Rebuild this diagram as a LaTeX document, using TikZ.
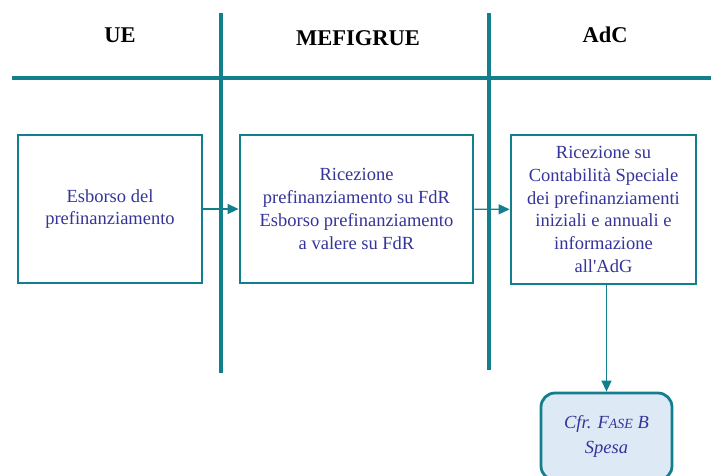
\documentclass[tikz,border=0pt]{standalone}
\usepackage{fontspec}
\setmainfont{Liberation Serif}
\usetikzlibrary{arrows.meta}
\definecolor{lane}{HTML}{137E8D}
\definecolor{testo}{HTML}{35349A}
\definecolor{fondo}{HTML}{DDEAF5}
\begin{document}
\begin{tikzpicture}[x=1pt, y=-1pt,
        box/.style={draw=lane, line width=2.8pt, text=testo, align=center,
            font=\fontsize{18.5}{22.7}\selectfont, inner sep=2pt},
        freccia/.style={draw=lane, line width=1.4pt, -{Triangle[length=11pt, width=10pt]}},
        titolo/.style={font=\fontsize{22.5}{24}\bfseries\selectfont}]
    \useasboundingbox (0,0) rectangle (711,475);
    % corsie
    \draw[lane, line width=3.2pt] (12,78) -- (711,78);
    \draw[lane, line width=3.2pt] (221,13) -- (221,373);
    \draw[lane, line width=3.2pt] (489,13) -- (489,370);
    \node[titolo] (ue) at (120,35) {UE};
    \node[titolo] (mef) at (358,38) {MEFIGRUE};
    \node[titolo] (adc) at (605,35) {AdC};
    % blocchi
    \node[box, minimum width=184pt, minimum height=148pt] (esborso) at (110,209)
        {Esborso del\\prefinanziamento};
    \node[box, minimum width=233pt, minimum height=148pt] (ricezione) at (356.5,209)
        {Ricezione\\prefinanziamento su FdR\\Esborso prefinanziamento\\a valere su FdR};
    \node[box, minimum width=185pt, minimum height=149pt] (contabilita) at (603.5,209.5)
        {Ricezione su\\Contabilità Speciale\\dei prefinanziamenti\\iniziali e annuali e\\informazione\\all\textquotesingle AdG};
    \node[box, rounded corners=14pt, fill=fondo, minimum width=131pt, minimum height=87pt,
        font=\fontsize{18.5}{25}\itshape\selectfont] (fase) at (606.5,436.5)
        {Cfr. F{\fontsize{14}{25}\selectfont ASE} B\\Spesa};
    % frecce
    \draw[freccia] (esborso) -- (ricezione);
    \draw[freccia] (ricezione) -- (contabilita);
    \draw[freccia] (contabilita.south -| fase.north) -- (fase.north);
\end{tikzpicture}
\end{document}
